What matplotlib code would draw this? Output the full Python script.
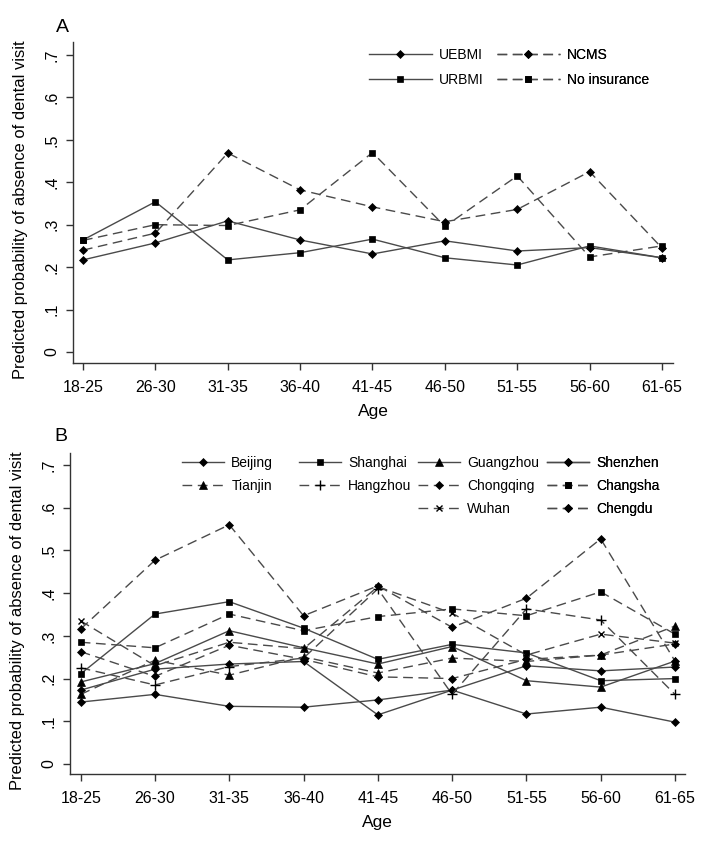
import matplotlib
matplotlib.use("Agg")
import matplotlib.pyplot as plt
from matplotlib.lines import Line2D

plt.rcParams["font.family"] = ["Liberation Sans", "DejaVu Sans"]

AGE = ["18-25", "26-30", "31-35", "36-40", "41-45", "46-50", "51-55", "56-60", "61-65"]
YTICKS = [0, 0.1, 0.2, 0.3, 0.4, 0.5, 0.6, 0.7]
YTICKLABELS = ["0", ".1", ".2", ".3", ".4", ".5", ".6", ".7"]

# panel A: insurance type
UEBMI = [0.217, 0.257, 0.309, 0.264, 0.231, 0.262, 0.238, 0.246, 0.222]
URBMI = [0.264, 0.354, 0.217, 0.234, 0.266, 0.222, 0.205, 0.250, 0.222]
NCMS = [0.240, 0.280, 0.469, 0.382, 0.342, 0.307, 0.336, 0.425, 0.245]
NO_INSURANCE = [0.263, 0.300, 0.298, 0.335, 0.470, 0.296, 0.415, 0.224, 0.250]

# panel B: city
BEIJING = [0.145, 0.163, 0.135, 0.133, 0.150, 0.173, 0.117, 0.133, 0.098]
SHANGHAI = [0.211, 0.351, 0.380, 0.318, 0.245, 0.280, 0.260, 0.195, 0.200]
GUANGZHOU = [0.192, 0.235, 0.312, 0.272, 0.234, 0.275, 0.195, 0.180, 0.241]
SHENZHEN = [0.173, 0.222, 0.234, 0.240, 0.115, 0.173, 0.230, 0.218, 0.227]
TIANJIN = [0.163, 0.243, 0.208, 0.251, 0.213, 0.248, 0.240, 0.255, 0.323]
HANGZHOU = [0.225, 0.185, 0.228, 0.248, 0.410, 0.163, 0.363, 0.337, 0.163]
CHONGQING = [0.263, 0.205, 0.278, 0.245, 0.204, 0.200, 0.245, 0.255, 0.281]
CHANGSHA = [0.285, 0.272, 0.351, 0.312, 0.345, 0.363, 0.347, 0.403, 0.304]
WUHAN = [0.335, 0.230, 0.285, 0.270, 0.415, 0.353, 0.255, 0.304, 0.283]
CHENGDU = [0.316, 0.477, 0.560, 0.347, 0.417, 0.320, 0.388, 0.527, 0.241]

LINE = "#4a4a4a"
DASH = (0, (7, 4))
W, H = 704, 842


def style(marker):
    ms = {"D": 4.5, "s": 5, "^": 5.5, "+": 7, "x": 5}[marker]
    return dict(marker=marker, markersize=ms, color=LINE, mfc="black",
                mec="black", mew=1.0 if marker in "+x" else 0.5, lw=1.0)


def setup(ax, xlim, ylim, label_x):
    x = list(range(len(AGE)))
    ax.set_xlim(*xlim)
    ax.set_ylim(*ylim)
    ax.set_xticks(x)
    ax.set_xticklabels(AGE, fontsize=11.5)
    ax.set_yticks(YTICKS)
    ax.set_yticklabels(YTICKLABELS, fontsize=11.5, rotation=90, va="center")
    for s in ("top", "right"):
        ax.spines[s].set_visible(False)
    for s in ("left", "bottom"):
        ax.spines[s].set_color("#333333")
        ax.spines[s].set_linewidth(1.0)
    ax.tick_params(length=5, width=1.0, color="#333333")
    ax.tick_params(axis="x", pad=7)
    ax.tick_params(axis="y", pad=5)
    ax.set_xlabel("Age", fontsize=12.5)
    ax.xaxis.set_label_coords(0.5, -0.127)
    ax.set_ylabel("Predicted probability of absence of dental visit", fontsize=11.9)
    ax.yaxis.set_label_coords(label_x, 0.477)


def column_legend(fig, ax, entries, x_px, y_px, hlen, spacing):
    handles = []
    labels = []
    for name, marker, ls in entries:
        handles.append(Line2D([], [], ls=ls, **style(marker)))
        labels.append(name)
    leg = ax.legend(handles, labels, loc="upper left",
                    bbox_to_anchor=(x_px / W, 1 - y_px / H),
                    bbox_transform=fig.transFigure, frameon=False,
                    fontsize=10, handlelength=hlen, handletextpad=0.55,
                    labelspacing=spacing, borderpad=0, borderaxespad=0,
                    numpoints=1)
    ax.add_artist(leg)


fig = plt.figure(figsize=(W / 100, H / 100), dpi=100)
x = list(range(len(AGE)))

# ---- panel A ----
axA = fig.add_axes([73 / W, 1 - 363 / H, 600 / W, 321 / H])
axA.plot(x, UEBMI, ls="-", **style("D"))
axA.plot(x, URBMI, ls="-", **style("s"))
axA.plot(x, NCMS, ls=DASH, **style("D"))
axA.plot(x, NO_INSURANCE, ls=DASH, **style("s"))
setup(axA, (-0.138, 8.152), (-0.026, 0.7306), -0.075)
fig.text(62 / W, 1 - 27 / H, "A", fontsize=14, ha="center", va="center")

column_legend(fig, axA, [("UEBMI", "D", "-"), ("URBMI", "s", "-")], 369, 48, 4.5, 0.8)
column_legend(fig, axA, [("NCMS", "D", DASH), ("No insurance", "s", DASH)], 497, 48, 4.5, 0.8)

# ---- panel B ----
axB = fig.add_axes([70 / W, 1 - 774 / H, 615 / W, 321 / H])
axB.plot(x, BEIJING, ls="-", **style("D"))
axB.plot(x, SHANGHAI, ls="-", **style("s"))
axB.plot(x, GUANGZHOU, ls="-", **style("^"))
axB.plot(x, SHENZHEN, ls="-", **style("D"))
axB.plot(x, TIANJIN, ls=DASH, **style("^"))
axB.plot(x, HANGZHOU, ls=DASH, **style("+"))
axB.plot(x, CHONGQING, ls=DASH, **style("D"))
axB.plot(x, CHANGSHA, ls=DASH, **style("s"))
axB.plot(x, WUHAN, ls=DASH, **style("x"))
axB.plot(x, CHENGDU, ls=DASH, **style("D"))
setup(axB, (-0.144, 8.135), (-0.0234, 0.728), -0.073)
fig.text(61 / W, 1 - 437 / H, "B", fontsize=14, ha="center", va="center")

column_legend(fig, axB, [("Beijing", "D", "-"), ("Tianjin", "^", DASH)], 182, 456, 3.0, 0.65)
column_legend(fig, axB, [("Shanghai", "s", "-"), ("Hangzhou", "+", DASH)], 299, 456, 3.0, 0.65)
column_legend(fig, axB, [("Guangzhou", "^", "-"), ("Chongqing", "D", DASH),
                         ("Wuhan", "x", DASH)], 418, 456, 3.0, 0.65)
column_legend(fig, axB, [("Shenzhen", "D", "-"), ("Changsha", "s", DASH),
                         ("Chengdu", "D", DASH)], 547, 456, 3.0, 0.65)

fig.savefig("out.png", dpi=100)
